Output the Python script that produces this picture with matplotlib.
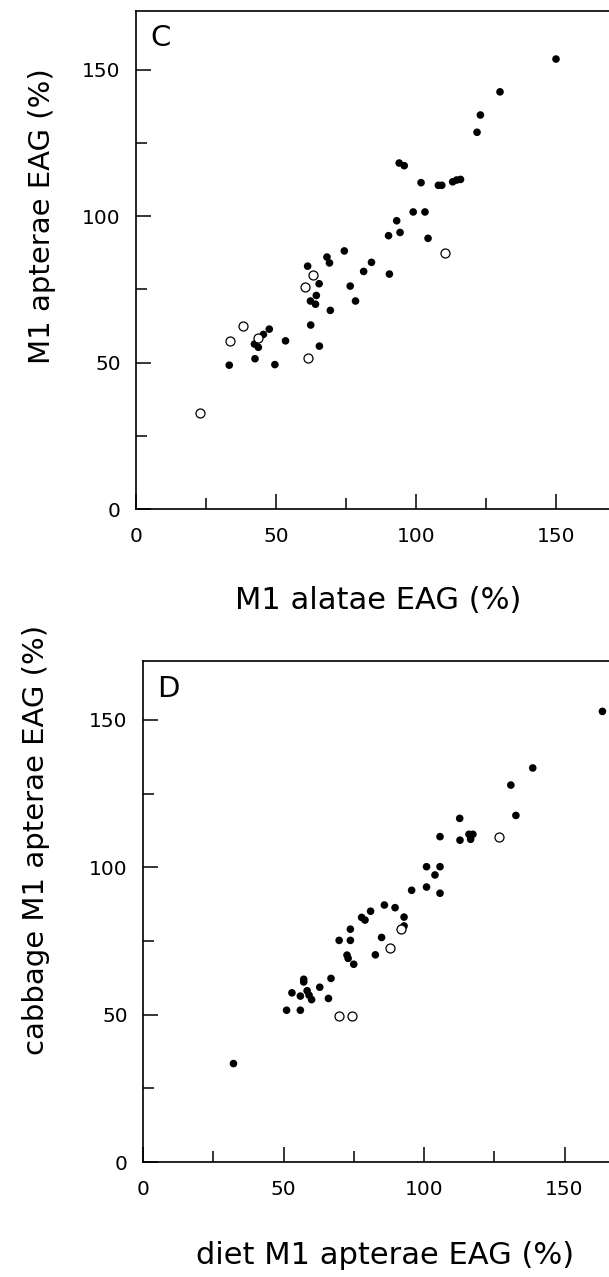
import matplotlib
matplotlib.use('Agg')
import matplotlib.pyplot as plt
from matplotlib.ticker import MultipleLocator

plt.rcParams['font.family'] = ['DejaVu Sans']

# panel C: M1 alatae vs M1 apterae
c_fill_x = [150, 130, 123, 121.8, 94, 95.8, 101.8, 108, 109.2, 113.1, 114.5, 115.9,
            99, 103.2, 93.1, 94.3, 90.2, 104.3, 74.4, 68.2, 69.1, 84.1, 81.3, 90.5,
            61.3, 65.4, 76.5, 64.4, 62.3, 64.1, 78.4, 69.4, 62.4, 65.5, 47.6, 45.5,
            42.3, 43.7, 53.4, 42.5, 33.3, 49.6]
c_fill_y = [153.6, 142.4, 134.5, 128.6, 118.1, 117.2, 111.4, 110.5, 110.5, 111.7, 112.3, 112.5,
            101.4, 101.4, 98.4, 94.4, 93.3, 92.4, 88.1, 86, 84, 84.2, 81.1, 80.2,
            82.9, 76.9, 76.1, 72.9, 71, 69.9, 71, 67.8, 62.8, 55.6, 61.4, 59.6,
            56.3, 55.2, 57.4, 51.3, 49.1, 49.3]
c_open_x = [110.4, 63.3, 60.2, 38.3, 33.4, 43.4, 61.4, 22.9]
c_open_y = [87.5, 79.9, 75.9, 62.5, 57.3, 58.5, 51.4, 32.9]

# panel D: diet M1 apterae vs cabbage M1 apterae
d_fill_x = [163.5, 138.7, 130.9, 132.7, 112.7, 112.8, 116, 117.4, 116.6, 105.7,
            100.9, 105.7, 103.9, 100.9, 105.7, 95.6, 85.9, 89.7, 81, 77.8, 79, 92.9,
            92.9, 73.8, 84.9, 69.8, 73.8, 72.6, 73, 75, 82.7, 57.2, 57.2, 66.9,
            53, 56, 58.4, 59.1, 60, 62.9, 66, 51.1, 56, 32.2]
d_fill_y = [152.9, 133.7, 127.9, 117.6, 116.6, 109.2, 111.2, 111.2, 109.5, 110.4,
            100.2, 100.2, 97.4, 93.3, 91.2, 92.2, 87.2, 86.3, 85.1, 83, 82.1, 83.1,
            80.1, 79, 76.2, 75.2, 75.2, 70.2, 69.1, 67.1, 70.3, 62, 61.1, 62.3,
            57.4, 56.3, 58.1, 56.6, 55.1, 59.3, 55.5, 51.5, 51.5, 33.4]
d_open_x = [126.8, 91.7, 87.9, 69.9, 74.2]
d_open_y = [110.4, 79.2, 72.5, 49.5, 49.5]

fig = plt.figure(figsize=(6.09, 12.77), dpi=100)


def style(ax, xmax, letter):
    ax.set_xlim(0, xmax)
    ax.set_ylim(0, 170)
    ax.spines['right'].set_visible(False)
    for s in ['top', 'left', 'bottom']:
        ax.spines[s].set_linewidth(1.2)
    ax.xaxis.set_major_locator(MultipleLocator(50))
    ax.xaxis.set_minor_locator(MultipleLocator(25))
    ax.yaxis.set_major_locator(MultipleLocator(50))
    ax.yaxis.set_minor_locator(MultipleLocator(25))
    ax.tick_params(which='major', direction='in', length=11, width=1.1, labelsize=14.5)
    ax.tick_params(which='minor', direction='in', length=8, width=1.1)
    ax.tick_params(axis='x', pad=13)
    ax.tick_params(axis='y', pad=11)
    ax.tick_params(top=False, right=False)
    ax.text(0.03, 0.945, letter, transform=ax.transAxes, fontsize=21,
            ha='left', va='center')


axC = fig.add_axes([136 / 609, 1 - 509 / 1277, 1 - 136 / 609, 498 / 1277])
axC.scatter(c_fill_x, c_fill_y, s=30, c='black', edgecolors='none', clip_on=False)
axC.scatter(c_open_x, c_open_y, s=42, facecolors='white', edgecolors='black',
            linewidths=0.9, clip_on=False)
style(axC, 473 / 2.8, 'C')

axD = fig.add_axes([143 / 609, 1 - 1162 / 1277, 1 - 143 / 609, 501 / 1277])
axD.scatter(d_fill_x, d_fill_y, s=30, c='black', edgecolors='none', clip_on=False)
axD.scatter(d_open_x, d_open_y, s=42, facecolors='white', edgecolors='black',
            linewidths=0.9, clip_on=False)
style(axD, 466 / 2.81, 'D')

fig.text(378 / 609, 1 - 600 / 1277, 'M1 alatae EAG (%)', fontsize=22,
         ha='center', va='center')
fig.text(42 / 609, 1 - 216 / 1277, 'M1 apterae EAG (%)', fontsize=21,
         ha='center', va='center', rotation=90)
fig.text(385 / 609, 1 - 1255 / 1277, 'diet M1 apterae EAG (%)', fontsize=22,
         ha='center', va='center')
fig.text(36 / 609, 1 - 840 / 1277, 'cabbage M1 apterae EAG (%)', fontsize=21,
         ha='center', va='center', rotation=90)

fig.savefig('out.png', dpi=100)
